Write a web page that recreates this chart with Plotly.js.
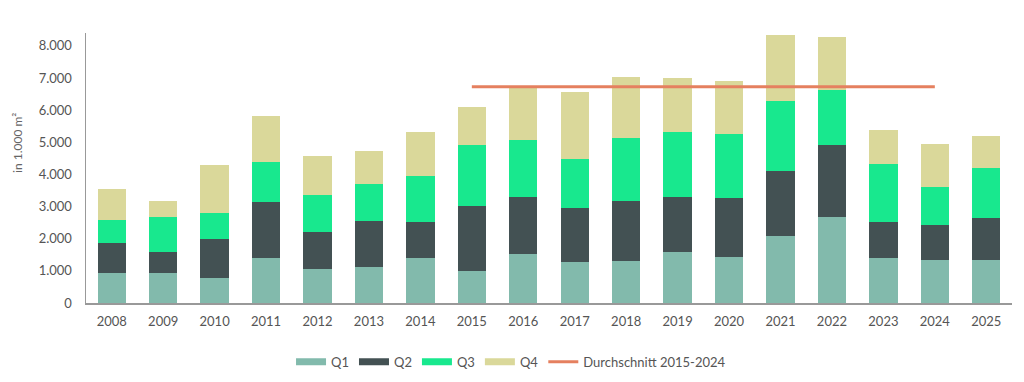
<!DOCTYPE html>
<html>
<head>
<meta charset="utf-8">
<script src="https://cdn.plot.ly/plotly-3.0.1.min.js"></script>
<style>html,body{margin:0;padding:0;background:#fff;}#chart{width:1024px;height:382px;}</style>
</head>
<body>
<div id="chart"></div>
<script>
const years = ['2008','2009','2010','2011','2012','2013','2014','2015','2016','2017','2018','2019','2020','2021','2022','2023','2024','2025'];
const q1 = [930, 925, 770, 1400, 1050, 1110, 1400, 1005, 1515, 1285, 1310, 1580, 1445, 2085, 2690, 1400, 1340, 1340];
const q2 = [930, 675, 1215, 1735, 1150, 1445, 1115, 2015, 1780, 1665, 1875, 1730, 1815, 2020, 2230, 1135, 1100, 1310];
const q3 = [710, 1070, 810, 1250, 1165, 1160, 1430, 1895, 1785, 1545, 1935, 2015, 1995, 2195, 1715, 1795, 1165, 1545];
const q4 = [980, 510, 1505, 1440, 1195, 1000, 1360, 1170, 1640, 2055, 1920, 1665, 1660, 2050, 1630, 1050, 1340, 1015];
const avgYears = ['2015','2024'];
const avgValues = [6730, 6730];
const seriesNames = ['Q1','Q2','Q3','Q4'];
const avgName = 'Durchschnitt 2015-2024';
const yTicks = [0,1000,2000,3000,4000,5000,6000,7000,8000];

const colors = ['#82BAAC','#435153','#18E88E','#DAD89A'];
const lineColor = '#E5805F';
const series = [q1,q2,q3,q4];

const traces = [];
series.forEach((vals,i)=>{
  traces.push({type:'bar', x:years, y:vals, name:seriesNames[i], marker:{color:colors[i]}, showlegend:false, hoverinfo:'y'});
});
series.forEach((vals,i)=>{
  traces.push({type:'scatter', mode:'lines', x:[null], y:[null], name:seriesNames[i], line:{color:colors[i], width:7}, showlegend:true, hoverinfo:'skip'});
});
traces.push({type:'scatter', mode:'lines', x:avgYears, y:avgValues, name:avgName, line:{color:lineColor, width:3}, showlegend:true});

const layout = {
  width:1024, height:382,
  margin:{l:86, r:12, t:33, b:79, autoexpand:false},
  paper_bgcolor:'#fff', plot_bgcolor:'#fff',
  barmode:'stack', bargap:0.45,
  separators:',.',
  font:{family:'Lato, "Open Sans", sans-serif', size:13, color:'#666'},
  xaxis:{type:'category', range:[-0.5,17.5], showline:true, linecolor:'#999', linewidth:1.5, showgrid:false, zeroline:false, automargin:false,
         ticks:'outside', ticklen:6, tickcolor:'rgba(0,0,0,0)', tickfont:{size:13, color:'#555'}, fixedrange:true},
  yaxis:{range:[0,8400], showline:true, linecolor:'#999', linewidth:1.5, showgrid:false, zeroline:false, automargin:false,
         tickvals:yTicks, tickformat:',d', ticks:'outside', ticklen:10, tickcolor:'rgba(0,0,0,0)', tickfont:{size:13, color:'#555'}, fixedrange:true},
  legend:{orientation:'h', x:0.459, xanchor:'center', y:-0.218, yanchor:'middle', font:{size:13, color:'#555'}, itemwidth:30, traceorder:'normal'},
  annotations:[{text:'in 1.000 m²', xref:'paper', yref:'paper', x:(18-86)/926, y:0.593, xanchor:'center', yanchor:'middle', textangle:-90, showarrow:false, font:{size:12, color:'#666'}}]
};
Plotly.newPlot('chart', traces, layout, {displayModeBar:false, staticPlot:true});
</script>
</body>
</html>
